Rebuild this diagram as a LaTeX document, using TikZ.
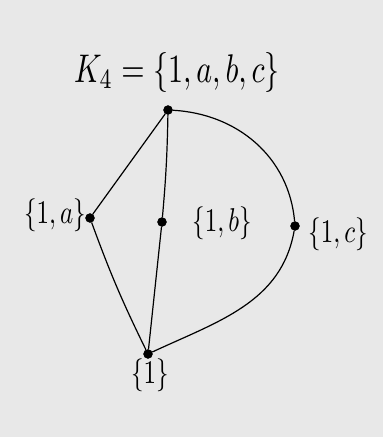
\documentclass[tikz,border=0pt]{standalone}
\usepackage{graphicx}
\usetikzlibrary{positioning}

\begin{document}
\begin{tikzpicture}[
    x=1pt, y=-1pt,
    dot/.style={circle, fill=black, draw=black, inner sep=0pt, minimum size=9pt},
    lbl/.style={inner sep=1pt},
    edge/.style={draw=black, line width=1.2pt}
]
    \fill[gray!18] (0,0) rectangle (383,437);
    \useasboundingbox (0,0) rectangle (383,437);
    \node (title) at (177,72) {\scalebox{3}[4]{$K_4 = \{1, a, b, c\}$}};
    \node[dot] (top) at (168,110) {};
    \node[dot] (a) at (90,218) {};
    \node[dot] (b) at (162,222) {};
    \node[dot] (c) at (295,226) {};
    \node[dot] (one) at (148,354) {};
    \node[lbl] (la) at (55,215) {\scalebox{2.5}[3.3]{$\{1,a\}$}};
    \node[lbl] (lb) at (222,223) {\scalebox{2.5}[3.3]{$\{1,b\}$}};
    \node[lbl] (lc) at (338,234) {\scalebox{2.5}[3.3]{$\{1,c\}$}};
    \node[lbl] (lone) at (150,375) {\scalebox{2.5}[3.3]{$\{1\}$}};
    \draw[edge] (top) -- (a);
    \draw[edge] (top) to[bend left=2] (b);
    \draw[edge] (top) to[out=-3, in=95] (c);
    \draw[edge] (a) to[bend right=3] (one);
    \draw[edge] (b) -- (one);
    \draw[edge] (c) to[out=-100, in=25] (one);
\end{tikzpicture}
\end{document}
